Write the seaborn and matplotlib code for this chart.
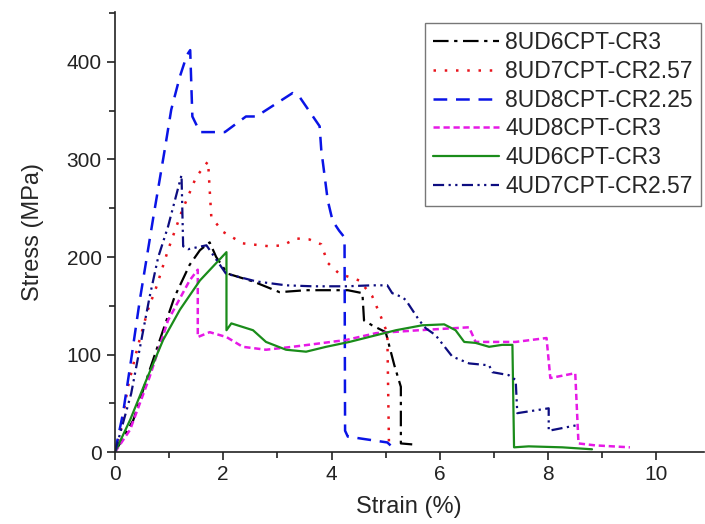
import pandas as pd
import matplotlib.pyplot as plt
import seaborn as sns
from matplotlib.ticker import MultipleLocator

# Datos: deformacion (%) y esfuerzo (MPa)
labels = ["8UD6CPT-CR3", "8UD7CPT-CR2.57", "8UD8CPT-CR2.25",
          "4UD8CPT-CR3", "4UD6CPT-CR3", "4UD7CPT-CR2.57"]

x_8ud6 = [0, 0.34, 0.64, 0.89, 1.1, 1.38, 1.57, 1.75, 1.87, 2.08, 2.55, 3.04, 3.53, 3.96,
          4.3, 4.57, 4.6, 4.75, 5.0, 5.16, 5.28, 5.28, 5.49]
y_8ud6 = [0, 33, 84, 125, 159, 192, 207, 215, 200, 183, 175, 164, 166, 166,
          166, 163, 135, 130, 123, 89, 67, 9, 8]

x_8ud7 = [0, 0.1, 0.24, 0.42, 0.61, 0.77, 0.98, 1.23, 1.5, 1.72, 1.75, 1.78, 1.99, 2.36,
          2.85, 3.1, 3.35, 3.59, 3.81, 3.93, 4.14, 4.51, 4.75, 4.91, 5.03, 5.06]
y_8ud7 = [0, 20, 67, 108, 146, 170, 207, 246, 282, 298, 269, 241, 226, 214,
          211, 212, 219, 218, 213, 194, 183, 176, 160, 139, 122, 9]

x_8ud8 = [0, 0.15, 0.3, 0.46, 0.71, 0.92, 1.04, 1.2, 1.33, 1.39, 1.43, 1.57, 2.03, 2.42,
          2.61, 3.28, 3.41, 3.78, 3.81, 3.93, 4.02, 4.14, 4.24, 4.25, 4.3, 5.03, 5.09]
y_8ud8 = [0, 40, 95, 156, 241, 310, 351, 385, 407, 412, 344, 328, 328, 344,
          344, 368, 364, 334, 310, 258, 237, 227, 220, 22, 16, 10, 7]

x_4ud8 = [0, 0.28, 0.64, 0.98, 1.38, 1.53, 1.53, 1.75, 2.06, 2.36, 2.79, 3.28, 3.71, 4.27,
          4.82, 5.62, 6.54, 6.66, 7.4, 7.97, 8.04, 8.5, 8.56, 8.87, 9.51]
y_4ud8 = [0, 23, 77, 135, 176, 187, 118, 123, 118, 108, 105, 108, 111, 115,
          122, 125, 128, 113, 113, 117, 76, 81, 9, 7, 5]

x_4ud6 = [0, 0.28, 0.58, 0.89, 1.2, 1.57, 2.06, 2.06, 2.15, 2.55, 2.79, 3.16, 3.53, 3.9,
          4.33, 5.19, 5.67, 6.08, 6.29, 6.45, 6.66, 6.91, 7.15, 7.34, 7.37, 7.64, 8.26, 8.81]
y_4ud6 = [0, 33, 74, 115, 146, 176, 205, 125, 132, 125, 113, 105, 103, 108,
          113, 125, 130, 131, 125, 113, 112, 108, 110, 110, 5, 6, 5, 3]

x_4ud7 = [0, 0.3, 0.64, 0.8, 0.98, 1.23, 1.26, 1.35, 1.69, 2.05, 2.61, 3.16, 3.65, 4.27,
          4.75, 5.03, 5.12, 5.3, 5.37, 5.62, 5.74, 5.92, 6.23, 6.54, 6.91, 6.97, 7.27, 7.4,
          7.43, 8.01, 8.01, 8.56]
y_4ud7 = [0, 60, 159, 200, 231, 284, 211, 208, 212, 183, 175, 171, 170, 170,
          171, 171, 163, 159, 156, 135, 127, 120, 98, 91, 89, 82, 79, 74,
          40, 45, 22, 28]

xs = [x_8ud6, x_8ud7, x_8ud8, x_4ud8, x_4ud6, x_4ud7]
ys = [y_8ud6, y_8ud7, y_8ud8, y_4ud8, y_4ud6, y_4ud7]

colores = ["black", "#e8141c", "#0a14e6", "#e619e6", "#1a8c1a", "#0d0d80"]
estilos = [(0, (7, 2.5, 1.5, 2.5)), (0, (1, 3.5)), (0, (5.5, 3.5)),
           (0, (2.5, 1.5)), "-", (0, (5, 2, 1, 2, 1, 2))]
grosores = [1.6, 1.8, 1.8, 1.8, 1.6, 1.6]

sns.set_style("ticks")
plt.rcParams['font.family'] = ['Liberation Sans', 'DejaVu Sans']

fig = plt.figure(figsize=(7.05, 5.24), dpi=100)
ax = fig.add_axes([0.163, 0.137, 0.835, 0.84])

for i in range(len(labels)):
    df = pd.DataFrame({'strain': xs[i], 'stress': ys[i]})
    sns.lineplot(data=df, x='strain', y='stress', sort=False, estimator=None, ax=ax,
                 color=colores[i], linestyle=estilos[i], linewidth=grosores[i],
                 label=labels[i])

ax.set_xlim(0, 10.87)
ax.set_ylim(0, 451)
ax.xaxis.set_major_locator(MultipleLocator(2))
ax.xaxis.set_minor_locator(MultipleLocator(1))
ax.yaxis.set_major_locator(MultipleLocator(100))
ax.yaxis.set_minor_locator(MultipleLocator(50))
ax.tick_params(which='major', length=6, width=1.2, labelsize=15, direction='out',
               colors='#222222')
ax.tick_params(which='minor', length=4, width=1.2, direction='out', colors='#222222')
for s in ['top', 'right']:
    ax.spines[s].set_visible(False)
for s in ['left', 'bottom']:
    ax.spines[s].set_linewidth(1.2)
    ax.spines[s].set_color('#222222')

ax.set_xlabel('Strain (%)', fontsize=17, labelpad=8)
ax.set_ylabel('Stress (MPa)', fontsize=17, labelpad=16)

leg = ax.legend(loc='upper right', bbox_to_anchor=(0.995, 0.975), fontsize=16.5,
                frameon=True, fancybox=False, handlelength=2.9, handletextpad=0.25,
                borderpad=0.35, labelspacing=0.25, borderaxespad=0)
leg.get_frame().set_edgecolor('#555555')
leg.get_frame().set_linewidth(1.0)

fig.savefig('out.png', dpi=100)
